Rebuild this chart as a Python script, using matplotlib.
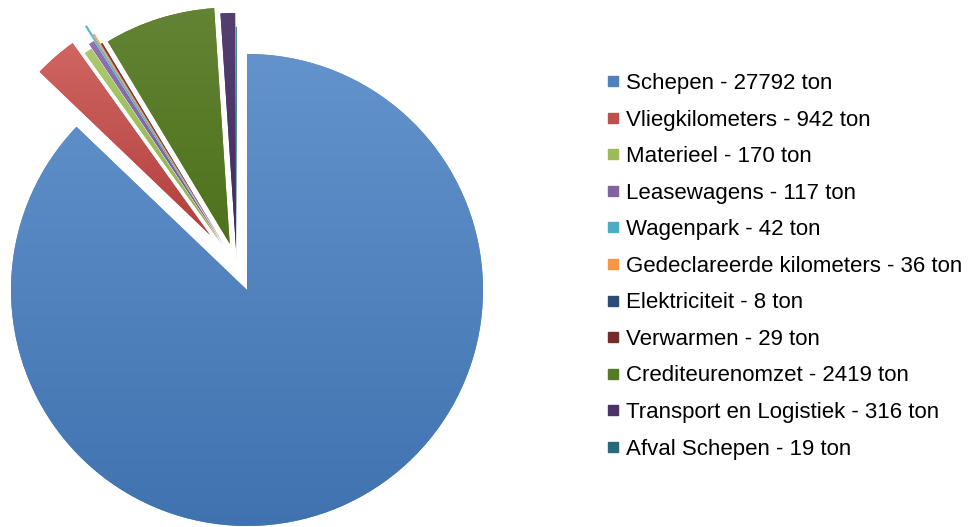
import matplotlib
matplotlib.use("Agg")
import matplotlib.pyplot as plt
import numpy as np
import colorsys
from matplotlib.colors import to_rgb, LinearSegmentedColormap
from matplotlib.lines import Line2D

categories = ["Schepen", "Vliegkilometers", "Materieel", "Leasewagens", "Wagenpark",
              "Gedeclareerde kilometers", "Elektriciteit", "Verwarmen",
              "Crediteurenomzet", "Transport en Logistiek", "Afval Schepen"]
values = [27792, 942, 170, 117, 42, 36, 8, 29, 2419, 316, 19]
colors = ["#4F81BD", "#C0504D", "#9BBB59", "#8064A2", "#4BACC6", "#F79646",
          "#2C4D75", "#772C2A", "#577A26", "#4A3468", "#276A7C"]
explode_px = [26.5, 40.5, 25, 30, 47, 36, 24, 24, 23, 16.6, 3]

W, H = 978, 527
fig = plt.figure(figsize=(W / 100, H / 100), dpi=100)
ax = fig.add_axes([0, 0, 1, 1])
R = 236
cx, cy = 236.6, H - 265.6

# matplotlib's explode offsets are in data units (here: pixels)
wedges, _ = ax.pie(values, radius=R, center=(cx, cy), startangle=90,
                   counterclock=False, explode=explode_px,
                   colors=colors, wedgeprops=dict(linewidth=0))


def shade(c, top=True):
    r, g, b = to_rgb(c)
    h, s, v = colorsys.rgb_to_hsv(r, g, b)
    if top:
        return colorsys.hsv_to_rgb(h, s * 0.88, min(1, v * 1.08))
    return colorsys.hsv_to_rgb(h, min(1, s * 1.1), v * 0.93)


for w, c in zip(wedges, colors):
    ext = w.get_path().get_extents()
    cmap = LinearSegmentedColormap.from_list("g", [shade(c, False), shade(c, True)])
    grad = np.linspace(0, 1, 256).reshape(-1, 1)
    im = ax.imshow(grad, cmap=cmap, origin="lower", aspect="auto",
                   extent=(ext.x0, ext.x1, ext.y0, ext.y1), zorder=3,
                   interpolation="bilinear")
    im.set_clip_path(w)

ax.set_xlim(0, W)
ax.set_ylim(0, H)
ax.set_aspect("auto")
ax.axis("off")

handles = [Line2D([], [], linestyle="none", marker="s", markersize=7.5,
                  markerfacecolor=c, markeredgecolor=c) for c in colors]
labels = [f"{n} - {v} ton" for n, v in zip(categories, values)]
leg = ax.legend(handles, labels, loc="upper left", bbox_to_anchor=(604 / W, 1 - 73 / H),
                frameon=False, handlelength=0.8, handletextpad=0.2,
                labelspacing=0.70, borderpad=0, borderaxespad=0,
                prop={"family": "Liberation Sans", "size": 16})

fig.savefig("out.png", dpi=100)
